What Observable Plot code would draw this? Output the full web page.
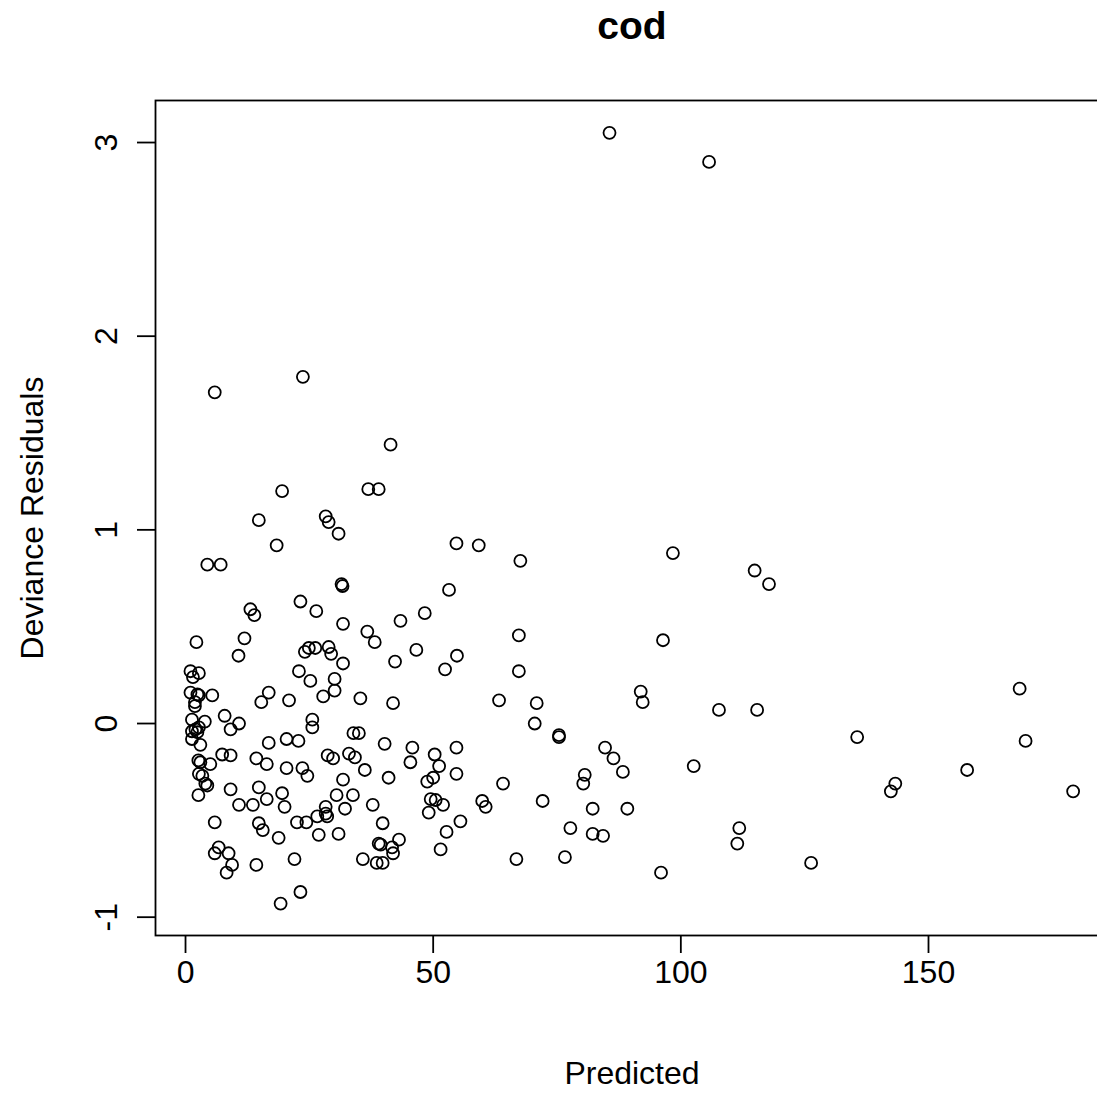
<!DOCTYPE html>
<html>
<head>
<meta charset="utf-8">
<script src="https://cdn.jsdelivr.net/npm/d3@7"></script>
<script src="https://cdn.jsdelivr.net/npm/@observablehq/plot@0.6"></script>
<style>
  html, body { margin: 0; padding: 0; background: #fff; overflow: hidden; }
  #chart { width: 1097px; height: 1095px; overflow: hidden; }
  #chart svg { max-width: none !important; width: 1130px !important; height: 1095px !important; }
</style>
</head>
<body>
<div id="chart"></div>
<script>
const chartTitle = "cod";
const xLabel = "Predicted";
const yLabel = "Deviance Residuals";
const xTicks = [0, 50, 100, 150];
const yTicks = [-1, 0, 1, 2, 3];

const predicted = [
  85.6, 105.7, 23.7, 5.9, 41.4, 19.5, 36.9, 39.0, 14.8, 28.3,
  28.9, 30.9, 18.4, 54.7, 59.2, 67.6, 98.4, 114.9, 117.8, 4.4,
  7.1, 31.5, 31.7, 13.1, 13.9, 23.2, 26.4, 53.2, 48.3, 31.8,
  43.4, 36.7, 38.2, 2.2, 11.9, 67.3, 96.4, 10.7, 24.1, 24.9,
  26.2, 28.9, 29.4, 46.6, 54.8, 52.4, 42.3, 31.8, 1.0, 2.7,
  1.5, 22.9, 25.2, 30.1, 30.1, 27.8, 35.3, 41.9, 67.3, 1.0,
  2.4, 2.7, 5.4, 1.9, 1.9, 15.3, 16.8, 20.9, 63.3, 70.9,
  91.9, 92.3, 168.4, 107.7, 115.4, 1.3, 3.9, 7.9, 10.8, 25.6,
  25.6, 70.5, 1.3, 2.0, 2.7, 2.4, 1.3, 9.1, 75.4, 75.4,
  135.6, 169.6, 3.0, 7.4, 9.1, 14.3, 16.4, 16.8, 20.4, 22.8,
  20.4, 23.6, 24.6, 28.7, 29.8, 33.0, 34.2, 33.9, 35.0, 40.2,
  45.8, 45.4, 50.3, 51.2, 54.7, 54.7, 48.8, 50.0, 36.2, 41.0,
  31.8, 2.6, 3.0, 5.0, 2.7, 3.4, 4.0, 4.4, 2.6, 9.1,
  14.8, 16.4, 19.5, 20.0, 10.8, 13.6, 30.5, 33.8, 37.8, 32.2,
  28.3, 28.3, 28.6, 49.5, 50.5, 52.0, 49.1, 59.9, 60.6, 64.1,
  72.1, 84.7, 86.4, 88.3, 102.6, 80.6, 80.3, 157.8, 143.3, 142.4,
  179.2, 82.2, 89.2, 5.9, 14.8, 15.6, 18.8, 22.5, 24.4, 26.6,
  26.9, 30.9, 39.8, 55.5, 52.7, 77.7, 82.2, 84.3, 111.8, 111.4,
  43.1, 39.0, 39.4, 41.7, 41.9, 51.5, 6.7, 5.9, 8.7, 9.4,
  8.3, 14.3, 22.0, 35.8, 38.6, 39.8, 66.8, 76.6, 96.0, 126.3,
  23.2, 19.2
];
const residuals = [
  3.05, 2.90, 1.79, 1.71, 1.44, 1.20, 1.21, 1.21, 1.05, 1.07,
  1.04, 0.98, 0.92, 0.93, 0.92, 0.84, 0.88, 0.79, 0.72, 0.82,
  0.82, 0.72, 0.71, 0.59, 0.56, 0.63, 0.58, 0.69, 0.57, 0.515,
  0.53, 0.475, 0.42, 0.42, 0.44, 0.455, 0.43, 0.35, 0.37, 0.39,
  0.39, 0.395, 0.36, 0.38, 0.35, 0.28, 0.32, 0.31, 0.27, 0.26,
  0.24, 0.27, 0.22, 0.23, 0.17, 0.14, 0.13, 0.105, 0.27, 0.16,
  0.15, 0.145, 0.145, 0.11, 0.09, 0.11, 0.16, 0.12, 0.12, 0.105,
  0.165, 0.11, 0.18, 0.07, 0.07, 0.02, 0.01, 0.04, 0.00, 0.02,
  -0.02, 0.00, -0.04, -0.03, -0.02, -0.045, -0.08, -0.03, -0.06, -0.07,
  -0.07, -0.09, -0.11, -0.16, -0.165, -0.18, -0.21, -0.10, -0.08, -0.09,
  -0.23, -0.23, -0.27, -0.165, -0.18, -0.155, -0.175, -0.05, -0.05, -0.105,
  -0.125, -0.20, -0.16, -0.22, -0.125, -0.26, -0.30, -0.28, -0.24, -0.28,
  -0.29, -0.19, -0.20, -0.21, -0.26, -0.27, -0.31, -0.32, -0.37, -0.34,
  -0.33, -0.39, -0.36, -0.43, -0.42, -0.42, -0.37, -0.37, -0.42, -0.44,
  -0.43, -0.465, -0.48, -0.39, -0.395, -0.42, -0.46, -0.40, -0.43, -0.31,
  -0.40, -0.125, -0.18, -0.25, -0.22, -0.265, -0.31, -0.24, -0.31, -0.35,
  -0.35, -0.44, -0.44, -0.51, -0.515, -0.55, -0.59, -0.51, -0.51, -0.48,
  -0.575, -0.57, -0.515, -0.505, -0.56, -0.54, -0.57, -0.58, -0.54, -0.62,
  -0.60, -0.62, -0.625, -0.64, -0.67, -0.65, -0.64, -0.67, -0.67, -0.73,
  -0.77, -0.73, -0.70, -0.70, -0.72, -0.72, -0.70, -0.69, -0.77, -0.72,
  -0.87, -0.93
];

const points = predicted.map((p, i) => ({ predicted: p, residual: residuals[i] }));

const font = "'Liberation Sans', Arial, Helvetica, sans-serif";

const chart = Plot.plot({
  width: 1130,
  height: 1095,
  marginLeft: 155,
  marginRight: 22,
  marginTop: 100,
  marginBottom: 160,
  style: { fontFamily: font, fontSize: "32px", background: "#fff", color: "#000", overflow: "visible", maxWidth: "none" },
  x: { domain: [-6.06, 186.34] },
  y: { domain: [-1.0946, 3.217] },
  marks: [
    Plot.frame({ stroke: "#000", strokeWidth: 1.8 }),
    Plot.axisX({ ticks: xTicks, tickSize: 18, tickPadding: 7, fontSize: 32, strokeWidth: 1.8, label: null, tickFormat: d => String(d) }),
    Plot.axisY({ ticks: yTicks, tickSize: 18, tickPadding: 21, tickRotate: -90, fontSize: 32, strokeWidth: 1.8, label: null, tickFormat: d => String(d) }),
    Plot.dot(points, { x: "predicted", y: "residual", r: 6, stroke: "#000", strokeWidth: 1.8, fill: "none" }),
    Plot.text([chartTitle], { text: d => d, frameAnchor: "top", dy: -62, lineAnchor: "bottom", fontSize: 39, fontWeight: "bold", fill: "#000" }),
    Plot.text([xLabel], { text: d => d, frameAnchor: "bottom", dy: 148, lineAnchor: "bottom", fontSize: 32, fill: "#000" }),
    Plot.text([yLabel], { text: d => d, frameAnchor: "left", dx: -113, rotate: -90, textAnchor: "middle", lineAnchor: "bottom", fontSize: 32, fill: "#000" })
  ]
});

document.getElementById("chart").appendChild(chart);
</script>
</body>
</html>
